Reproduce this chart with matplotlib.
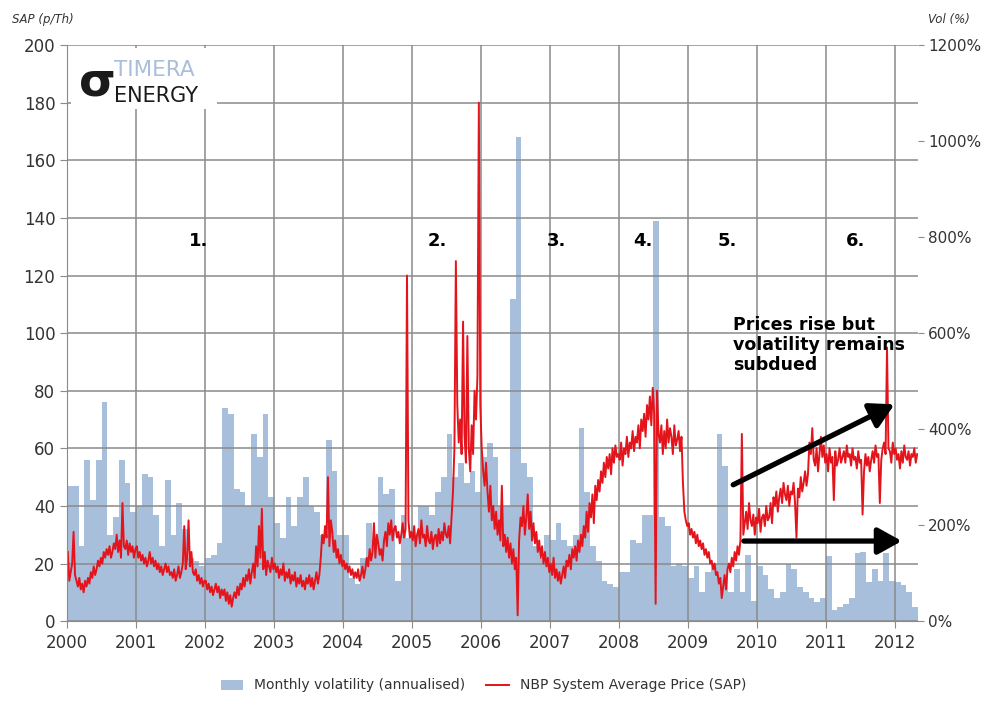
import numpy as np
import matplotlib
matplotlib.use("Agg")
import matplotlib.pyplot as plt
from matplotlib.patches import Rectangle, FancyArrowPatch
from matplotlib.ticker import FuncFormatter

# monthly volatility (annualised, %), Jan 2000 .. Apr 2012
vol_2000 = [282, 282, 156, 336, 252, 336, 456, 180, 216, 336, 288, 228]
vol_2001 = [240, 306, 300, 222, 156, 294, 180, 246, 192, 132, 126, 114]
vol_2002 = [132, 138, 162, 444, 432, 276, 270, 240, 390, 342, 432, 258]
vol_2003 = [204, 174, 258, 198, 258, 300, 240, 228, 180, 378, 312, 180]
vol_2004 = [180, 90, 78, 132, 204, 168, 300, 264, 276, 84, 222, 174]
vol_2005 = [180, 240, 240, 222, 270, 300, 390, 300, 330, 288, 312, 270]
vol_2006 = [342, 372, 342, 240, 240, 672, 1008, 330, 300, 156, 132, 180]
vol_2007 = [168, 204, 168, 156, 180, 402, 270, 156, 126, 84, 78, 72]
vol_2008 = [102, 102, 168, 162, 222, 222, 834, 216, 198, 114, 120, 114]
vol_2009 = [90, 114, 60, 102, 120, 390, 324, 60, 108, 60, 138, 42]
vol_2010 = [114, 96, 66, 48, 60, 120, 108, 72, 60, 48, 39, 48]
vol_2011 = [135, 24, 30, 36, 48, 141, 144, 81, 108, 84, 141, 84]
vol_2012 = [81, 75, 60, 30]

# NBP system average price (p/therm), four readings per month
sap_2000 = [24, 14, 17, 20, 31, 16, 14, 12, 15, 11, 13, 10, 14, 12, 15, 13,
            17, 15, 19, 16, 18, 21, 19, 22, 20, 24, 22, 25, 23, 26, 22, 24,
            27, 25, 30, 24, 28, 22, 41, 26, 25, 28, 23, 27, 24, 26, 22, 25]
sap_2001 = [26, 22, 24, 21, 23, 20, 22, 19, 21, 24, 20, 22, 19, 21, 18, 20,
            17, 19, 16, 18, 20, 17, 19, 16, 17, 15, 18, 14, 16, 19, 15, 17,
            20, 33, 18, 22, 35, 19, 24, 17, 16, 18, 14, 16, 13, 15, 12, 14]
sap_2002 = [14, 11, 13, 10, 12, 9, 11, 13, 10, 12, 8, 11, 9, 11, 7, 10,
            6, 9, 5, 8, 10, 8, 12, 9, 13, 11, 15, 12, 16, 14, 18, 13,
            17, 20, 15, 26, 19, 33, 22, 39, 18, 24, 16, 21, 19, 17, 22, 18]
sap_2003 = [20, 17, 19, 15, 18, 16, 20, 14, 17, 15, 18, 13, 16, 14, 17, 12,
            15, 13, 16, 12, 14, 11, 15, 13, 16, 12, 15, 11, 14, 17, 13, 16,
            22, 30, 27, 33, 29, 50, 26, 35, 31, 24, 28, 22, 25, 20, 23, 19]
sap_2004 = [21, 18, 20, 17, 19, 16, 18, 15, 17, 15, 18, 14, 16, 19, 15, 18,
            22, 19, 25, 21, 24, 34, 22, 30, 27, 23, 25, 21, 28, 31, 26, 34,
            30, 35, 28, 32, 33, 29, 31, 27, 30, 34, 29, 32, 120, 35, 29, 31]
sap_2005 = [28, 33, 26, 30, 32, 27, 35, 29, 30, 26, 33, 28, 27, 31, 25, 29,
            30, 26, 32, 27, 31, 28, 34, 30, 29, 33, 27, 36, 45, 60, 125, 75,
            62, 70, 58, 104, 65, 55, 99, 60, 52, 68, 58, 80, 70, 85, 180, 75]
sap_2006 = [60, 52, 47, 55, 45, 38, 47, 35, 40, 32, 38, 30, 35, 28, 47, 26,
            30, 24, 29, 22, 27, 20, 25, 18, 22, 2, 28, 36, 33, 40, 30, 36,
            44, 32, 38, 28, 34, 27, 31, 24, 28, 22, 26, 20, 24, 19, 22, 17]
sap_2007 = [20, 16, 22, 15, 18, 14, 17, 13, 16, 19, 15, 21, 19, 23, 18, 25,
            22, 26, 21, 28, 24, 30, 26, 33, 29, 38, 31, 41, 36, 44, 34, 47,
            42, 49, 45, 52, 48, 55, 50, 57, 53, 58, 51, 60, 55, 61, 57, 58]
sap_2008 = [56, 62, 54, 60, 58, 64, 57, 62, 60, 66, 59, 64, 62, 68, 60, 70,
            66, 72, 64, 75, 70, 78, 68, 81, 72, 6, 80, 65, 62, 68, 58, 66,
            60, 70, 62, 67, 64, 58, 68, 61, 63, 66, 59, 64, 48, 38, 35, 33]
sap_2009 = [34, 30, 32, 29, 31, 27, 30, 26, 28, 25, 27, 23, 25, 22, 24, 20,
            21, 18, 20, 16, 17, 13, 15, 8, 12, 16, 11, 18, 20, 17, 22, 19,
            24, 21, 26, 23, 28, 65, 30, 34, 38, 32, 41, 35, 33, 37, 30, 36]
sap_2010 = [34, 39, 31, 36, 37, 33, 40, 35, 36, 41, 34, 43, 40, 45, 38, 43,
            46, 41, 48, 44, 42, 47, 40, 45, 44, 48, 41, 29, 46, 43, 50, 45,
            48, 52, 47, 51, 62, 58, 67, 56, 54, 60, 52, 58, 64, 57, 61, 55]
sap_2011 = [58, 52, 60, 55, 57, 42, 59, 54, 56, 60, 55, 57, 59, 55, 61, 57,
            58, 54, 60, 56, 57, 53, 59, 55, 56, 37, 52, 58, 54, 57, 52, 56,
            59, 55, 61, 57, 58, 41, 56, 60, 62, 58, 95, 60, 59, 55, 62, 58]
sap_2012 = [60, 56, 58, 53, 59, 55, 61, 57, 56, 59, 54, 58, 57, 60, 55, 58]

years = [str(y) for y in range(2000, 2013)]
phase_labels = ["1.", "2.", "3.", "4.", "5.", "6."]
phase_x = [2001.9, 2005.36, 2007.1, 2008.35, 2009.57, 2011.43]

vol = np.concatenate([vol_2000, vol_2001, vol_2002, vol_2003, vol_2004, vol_2005, vol_2006,
                      vol_2007, vol_2008, vol_2009, vol_2010, vol_2011, vol_2012])
sap = np.concatenate([sap_2000, sap_2001, sap_2002, sap_2003, sap_2004, sap_2005, sap_2006,
                      sap_2007, sap_2008, sap_2009, sap_2010, sap_2011, sap_2012])

month_x = 2000 + np.arange(len(vol)) / 12
sap_x = 2000 + (np.arange(len(sap)) + 0.5) / 48
x_end = 2000 + len(vol) / 12

fig = plt.figure(figsize=(9.87, 7.05), dpi=100)
ax = fig.add_axes([0.068, 0.119, 0.862, 0.817])
ax2 = ax.twinx()
ax.set_zorder(2)
ax.patch.set_visible(False)

ax2.bar(month_x, vol, width=1/12, align="edge", color="#a8bfdb", linewidth=0,
        label="Monthly volatility (annualised)")
ax.plot(sap_x, sap, color="#e3141c", lw=1.4, label="NBP System Average Price (SAP)")

ax.set_xlim(2000, x_end)
ax.set_ylim(0, 200)
ax2.set_ylim(0, 1200)
ax.set_yticks(np.arange(0, 201, 20))
ax2.set_yticks(np.arange(0, 1201, 200))
ax2.yaxis.set_major_formatter(FuncFormatter(lambda v, p: f"{int(v)}%"))
ax.set_xticks(np.arange(2000, 2013))
ax.set_xticklabels(years)

grid_c = "#8a8a8a"
ax.grid(True, color=grid_c, lw=1.1)
for a in (ax, ax2):
    for s in a.spines.values():
        s.set_visible(False)
ax.spines["left"].set_visible(True)
ax.spines["bottom"].set_visible(True)
ax.spines["left"].set_color(grid_c)
ax.spines["bottom"].set_color(grid_c)
ax.tick_params(axis="both", colors=grid_c, labelcolor="#333333", labelsize=12, length=5)
ax2.tick_params(axis="y", colors=grid_c, labelcolor="#333333", labelsize=11, length=4)
ax.tick_params(axis="x", pad=4)

fig.text(0.012, 0.968, "SAP (p/Th)", fontsize=8.5, style="italic", color="#333333")
fig.text(0.940, 0.968, "Vol (%)", fontsize=8.5, style="italic", color="#333333")

for lab, px in zip(phase_labels, phase_x):
    ax.text(px, 132, lab, fontsize=13, fontweight="bold", ha="center", va="center", zorder=6)

ax.text(2009.65, 106, "Prices rise but\nvolatility remains\nsubdued", fontsize=12.5,
        fontweight="bold", ha="left", va="top", linespacing=1.15, zorder=6)

for (x0, y0), (x1, y1) in [((2009.62, 46.9), (2012.03, 75.7)),
                           ((2009.77, 27.8), (2012.14, 27.8))]:
    ax.add_patch(FancyArrowPatch((x0, y0), (x1, y1), arrowstyle="-|>,head_length=9,head_width=5",
                                 mutation_scale=1.6, color="black", lw=3.8, zorder=6))

# logo block
ax.add_patch(Rectangle((0.072, 0.846), 0.148, 0.086, transform=fig.transFigure,
                       facecolor="white", edgecolor="none", zorder=5, clip_on=False))
fig.text(0.080, 0.882, "σ", fontsize=34, fontweight="bold", color="#1a1a1a", va="center")
fig.text(0.116, 0.900, "TIMERA", fontsize=15.5, color="#a9bfd9", va="center")
fig.text(0.116, 0.864, "ENERGY", fontsize=15, color="#1a1a1a", va="center")

h1, l1 = ax2.get_legend_handles_labels()
h2, l2 = ax.get_legend_handles_labels()
fig.legend(h1 + h2, l1 + l2, loc="lower center", bbox_to_anchor=(0.49, 0.0), ncol=2,
           frameon=False, fontsize=10, handlelength=1.6, columnspacing=1.5, labelcolor="#333333")

fig.savefig("out.png", dpi=100)
